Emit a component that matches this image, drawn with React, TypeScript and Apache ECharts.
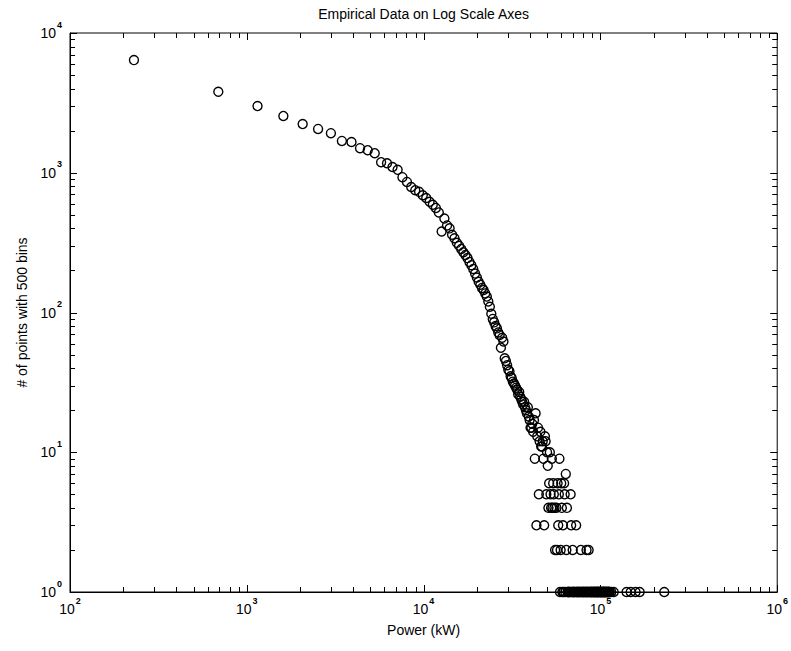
import React, { useEffect, useRef } from "react";
import * as echarts from "echarts";

// Histogram of power readings (500 bins), bins with zero counts omitted.
// Bin centres in kW for the upper part of the distribution.
const curvePowerKW = [
  230, 690, 1150, 1610, 2070, 2530, 2990, 3450, 3910, 4370,
  4830, 5290, 5750, 6210, 6670, 7130, 7590, 8050, 8510, 8970,
  9430, 9890, 10350, 10810, 11270, 11730, 12190, 12650, 13110, 13570,
  14030, 14490, 14950, 15410, 15870, 16330, 16790, 17250, 17710, 18170,
  18630, 19090, 19550, 20010, 20470, 20930, 21390, 21850, 22310, 22770,
  23230, 23690, 24150, 24610, 25070, 25530, 25990, 26450, 26910, 27370,
  27830, 28290,
];
const curveCounts = [
  6400, 3800, 3000, 2550, 2230, 2060, 1920, 1690, 1660, 1500,
  1450, 1380, 1190, 1170, 1100, 1050, 930, 860, 790, 750,
  730, 690, 660, 620, 590, 560, 520, 380, 470, 420,
  400, 360, 340, 315, 300, 285, 270, 258, 245, 230,
  218, 205, 190, 178, 166, 158, 150, 145, 137, 130,
  120, 110, 98, 90, 85, 80, 77, 72, 69, 56,
  66, 62,
];

// Steep fall-off region.
const kneePowerKW = [
  28750, 29210, 29670, 30130, 30590, 31050, 31510, 31970, 32430, 32890,
  33350, 33810, 34270, 34730, 35190, 35650, 36110, 36570, 37030, 37490,
  37950, 38410, 38870, 39330, 39790, 40250, 40710, 41170, 41630, 42090,
  42550, 43010, 43470, 43930, 44390, 44850, 45310, 45770, 46230, 46690,
  47150, 47610, 48070, 48530, 48990, 49450, 49910, 50370, 50830, 51290,
  51750, 52210, 52670, 53130, 53590, 54050, 54510, 54970, 55430,
  56350, 56810, 57270, 57730, 58190, 58650, 59110, 59570, 60030, 60490,
  60950, 61410, 61870, 62330, 62790, 63250, 63710, 64170, 64630, 65090,
  65550, 66010, 66470, 66930, 67390, 67850, 68310,
];
const kneeCounts = [
  47, 45, 42, 39, 38, 35, 34, 32, 31, 30,
  29, 28, 26, 27, 25, 24, 23, 22, 23, 21,
  20, 19, 21, 18, 17, 15, 15, 16, 14, 17,
  9, 19, 3, 13, 15, 5, 12, 14, 11, 11,
  12, 9, 3, 13, 12, 5, 10, 8, 4, 6,
  10, 5, 4, 9, 4, 6, 5, 4, 2,
  4, 2, 6, 3, 5, 9, 1, 2, 6, 4,
  1, 3, 1, 6, 5, 1, 7, 2, 4, 1,
  1, 1, 1, 1, 1, 5, 3,
];

// Sparse tail: mostly single readings.
const tailPowerKW = [
  68770, 69230, 69690, 70150, 70610, 71070, 71530, 72450, 72910, 73370,
  73830, 74290, 74750, 75210, 76130, 76590, 77050, 77510, 77970, 78430,
  79350, 79810, 80270, 80730, 81190, 82110, 82570, 83030, 83490, 83950,
  84410, 84870, 85330, 85790, 86250, 86710, 87630, 88090, 88550, 89010,
  89470, 89930, 90850, 91310, 91770, 92230, 92690, 93150, 94070, 94530,
  94990, 95450, 95910, 96370, 96830, 97290, 97750, 98210, 99130, 99590,
  100050, 100510, 100970, 101430, 101890, 102810, 103270, 103730, 104190, 104650,
  105110, 105570, 106030, 106950, 107410, 107870, 108330, 109250, 109710, 110630,
  111090, 111550, 112470, 112930, 115230, 118910, 140530, 148350, 158010, 166750,
  229770,
];
const tailCounts = [
  1, 1, 2, 1, 1, 1, 1, 1, 3, 1,
  1, 1, 1, 1, 1, 1, 1, 2, 1, 1,
  1, 1, 1, 1, 1, 1, 1, 1, 2, 1,
  1, 1, 1, 2, 1, 1, 1, 1, 1, 1,
  1, 1, 1, 1, 1, 1, 1, 1, 1, 1,
  1, 1, 1, 1, 1, 1, 1, 1, 1, 1,
  1, 1, 1, 1, 1, 1, 1, 1, 1, 1,
  1, 1, 1, 1, 1, 1, 1, 1, 1, 1,
  1, 1, 1, 1, 1, 1, 1, 1, 1, 1,
  1,
];

const xDecades = [2, 3, 4, 5, 6];
const yDecades = [0, 1, 2, 3, 4];
const minorSteps = [2, 3, 4, 5, 6, 7, 8, 9];

const TITLE = "Empirical Data on Log Scale Axes";
const X_NAME = "Power (kW)";
const Y_NAME = "# of points with 500 bins";

const W = 791;
const H = 651;
const FONT = "'Liberation Sans', Arial, sans-serif";

const pair = (xs: number[], ys: number[]) => xs.map((x, i) => [x, ys[i]]);

export default function App() {
  const ref = useRef<HTMLDivElement>(null);

  useEffect(() => {
    if (!ref.current) return;
    const chart = echarts.init(ref.current, null, { renderer: "svg", width: W, height: H });

    const points = [
      ...pair(curvePowerKW, curveCounts),
      ...pair(kneePowerKW, kneeCounts),
      ...pair(tailPowerKW, tailCounts),
    ];

    const powLabel = (v: number) => `{b|10}{e|${Math.round(Math.log10(v))}}`;
    const rich = {
      b: { fontSize: 14, lineHeight: 26, fontFamily: FONT, color: "#000" },
      e: {
        fontSize: 9,
        fontWeight: "bold",
        lineHeight: 10,
        verticalAlign: "top",
        fontFamily: FONT,
        color: "#000",
        padding: [0, 0, 0, 1],
      },
    };

    chart.setOption({
      animation: false,
      backgroundColor: "#fff",
      grid: {
        left: 70,
        top: 33,
        width: 710,
        height: 559,
        show: true,
        borderColor: "#000",
        borderWidth: 1,
        backgroundColor: "transparent",
      },
      xAxis: {
        type: "log",
        logBase: 10,
        min: Math.pow(10, xDecades[0]),
        max: Math.pow(10, xDecades[xDecades.length - 1]),
        name: X_NAME,
        nameLocation: "middle",
        nameGap: 31,
        nameTextStyle: { fontSize: 14, fontFamily: FONT, color: "#000" },
        axisLine: { show: true, lineStyle: { color: "#000", width: 1 } },
        axisTick: { show: false },
        splitLine: { show: false },
        axisLabel: {
          formatter: powLabel,
          rich,
          margin: 4,
          showMinLabel: true,
          showMaxLabel: true,
          hideOverlap: false,
        },
      },
      yAxis: {
        type: "log",
        logBase: 10,
        min: Math.pow(10, yDecades[0]),
        max: Math.pow(10, yDecades[yDecades.length - 1]),
        name: Y_NAME,
        nameLocation: "middle",
        nameGap: 41,
        nameTextStyle: { fontSize: 14, fontFamily: FONT, color: "#000" },
        axisLine: { show: true, lineStyle: { color: "#000", width: 1 } },
        axisTick: { show: false },
        splitLine: { show: false },
        axisLabel: {
          formatter: powLabel,
          rich,
          margin: 8,
          showMinLabel: true,
          showMaxLabel: true,
          hideOverlap: false,
        },
      },
      series: [
        {
          type: "scatter",
          data: points,
          symbol: "circle",
          symbolSize: 9,
          clip: false,
          silent: true,
          itemStyle: { color: "rgba(0,0,0,0)", borderColor: "#000", borderWidth: 1.4, opacity: 1 },
        },
      ],
    });

    // Inside tick marks on all four sides (decades and 2..9 sub-divisions).
    const left = chart.convertToPixel({ xAxisIndex: 0 }, Math.pow(10, xDecades[0])) as number;
    const right = chart.convertToPixel({ xAxisIndex: 0 }, Math.pow(10, xDecades[xDecades.length - 1])) as number;
    const bottom = chart.convertToPixel({ yAxisIndex: 0 }, Math.pow(10, yDecades[0])) as number;
    const top = chart.convertToPixel({ yAxisIndex: 0 }, Math.pow(10, yDecades[yDecades.length - 1])) as number;

    const tickStyle = { stroke: "#000", lineWidth: 1 };
    const graphics: any[] = [];
    const crisp = (p: number) => Math.round(p) + 0.5;

    const xTickValues: [number, number][] = [];
    xDecades.forEach((d, i) => {
      xTickValues.push([Math.pow(10, d), 7]);
      if (i < xDecades.length - 1) minorSteps.forEach((m) => xTickValues.push([m * Math.pow(10, d), 5]));
    });
    const yTickValues: [number, number][] = [];
    yDecades.forEach((d, i) => {
      yTickValues.push([Math.pow(10, d), 7]);
      if (i < yDecades.length - 1) minorSteps.forEach((m) => yTickValues.push([m * Math.pow(10, d), 5]));
    });

    xTickValues.forEach(([v, len]) => {
      const px = crisp(chart.convertToPixel({ xAxisIndex: 0 }, v) as number);
      graphics.push({ type: "line", silent: true, shape: { x1: px, y1: bottom, x2: px, y2: bottom - len }, style: tickStyle });
      graphics.push({ type: "line", silent: true, shape: { x1: px, y1: top, x2: px, y2: top + len }, style: tickStyle });
    });
    yTickValues.forEach(([v, len]) => {
      const py = crisp(chart.convertToPixel({ yAxisIndex: 0 }, v) as number);
      graphics.push({ type: "line", silent: true, shape: { x1: left, y1: py, x2: left + len, y2: py }, style: tickStyle });
      graphics.push({ type: "line", silent: true, shape: { x1: right, y1: py, x2: right - len, y2: py }, style: tickStyle });
    });

    graphics.push({
      type: "text",
      silent: true,
      x: (left + right) / 2,
      y: 14,
      style: {
        text: TITLE,
        fill: "#000",
        fontSize: 14,
        fontFamily: FONT,
        align: "center",
        verticalAlign: "middle",
      },
    });

    chart.setOption({ graphic: graphics });

    return () => chart.dispose();
  }, []);

  return (
    <div
      ref={ref}
      style={{ position: "absolute", left: 0, top: 0, width: W, height: H, background: "#fff" }}
    />
  );
}
